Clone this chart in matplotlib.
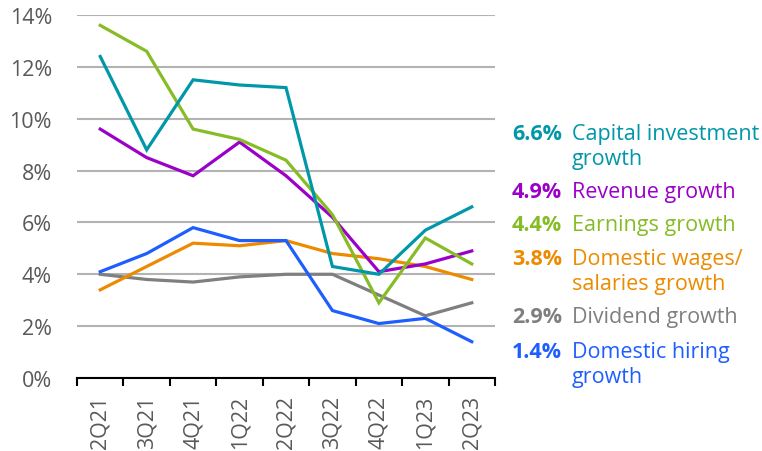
import numpy as np
import matplotlib.pyplot as plt

plt.rcParams['font.family'] = ['Open Sans', 'DejaVu Sans']

quarters = ['2Q21', '3Q21', '4Q21', '1Q22', '2Q22', '3Q22', '4Q22', '1Q23', '2Q23']

capital = [12.4, 8.8, 11.5, 11.3, 11.2, 4.3, 4.0, 5.7, 6.6]
revenue = [9.6, 8.5, 7.8, 9.1, 7.8, 6.2, 4.1, 4.4, 4.9]
earnings = [13.6, 12.6, 9.6, 9.2, 8.4, 6.3, 2.9, 5.4, 4.4]
wages = [3.4, 4.3, 5.2, 5.1, 5.3, 4.8, 4.6, 4.3, 3.8]
dividend = [4.0, 3.8, 3.7, 3.9, 4.0, 4.0, 3.2, 2.4, 2.9]
hiring = [4.1, 4.8, 5.8, 5.3, 5.3, 2.6, 2.1, 2.3, 1.4]

names = ['Capital investment\ngrowth', 'Revenue growth', 'Earnings growth',
         'Domestic wages/\nsalaries growth', 'Dividend growth',
         'Domestic hiring\ngrowth']
colors = ['#0097A9', '#9B00C8', '#86BC25', '#ED8B00', '#7F7F7F', '#1E5EFF']
series = [capital, revenue, earnings, wages, dividend, hiring]
# baseline of first label line, in pixels from the top
label_y = [140, 198, 231, 265, 323, 358]

fs = 15.5
fig = plt.figure(figsize=(7.62, 4.52), dpi=100)
ax = fig.add_axes([77 / 762, 1 - 379 / 452, 418 / 762, 363 / 452])

x = np.arange(len(quarters))
# draw in back-to-front order like the original
for i in [4, 3, 5, 1, 2, 0]:
    ax.plot(x, series[i], color=colors[i], lw=2.3, solid_joinstyle='miter', zorder=3)

ax.set_xlim(-0.5, len(quarters) - 0.5)
ax.set_ylim(0, 14)
ax.set_yticks(np.arange(0, 15, 2))
ax.set_yticklabels(['%d%%' % v for v in range(0, 15, 2)])
ax.yaxis.grid(True, color='#b3b3b3', lw=1.5)
ax.set_axisbelow(True)
ax.tick_params(axis='y', length=0, pad=18, labelsize=fs, labelcolor='#595959')

ax.set_xticks(x)
ax.set_xticklabels(quarters, rotation=90)
ax.set_xticks(np.arange(-0.5, len(quarters)), minor=True)
ax.tick_params(axis='x', which='major', length=0, pad=12, labelsize=fs,
               labelcolor='#595959')
ax.tick_params(axis='x', which='minor', length=6, width=1.5, color='black')

for s in ['left', 'right', 'top']:
    ax.spines[s].set_visible(False)
ax.spines['bottom'].set_linewidth(1.5)
ax.spines['bottom'].set_color('black')

for i in range(len(series)):
    yy = 1 - label_y[i] / 452
    val = '%.1f%%' % series[i][-1]
    fig.text(512 / 762, yy, val, color=colors[i], fontsize=fs,
             fontweight='bold', va='baseline', ha='left')
    lines = names[i].split('\n')
    for j, ln in enumerate(lines):
        fig.text(572 / 762, yy - j * 25 / 452, ln, color=colors[i], fontsize=fs,
                 va='baseline', ha='left')

fig.savefig('out.png', dpi=100)
